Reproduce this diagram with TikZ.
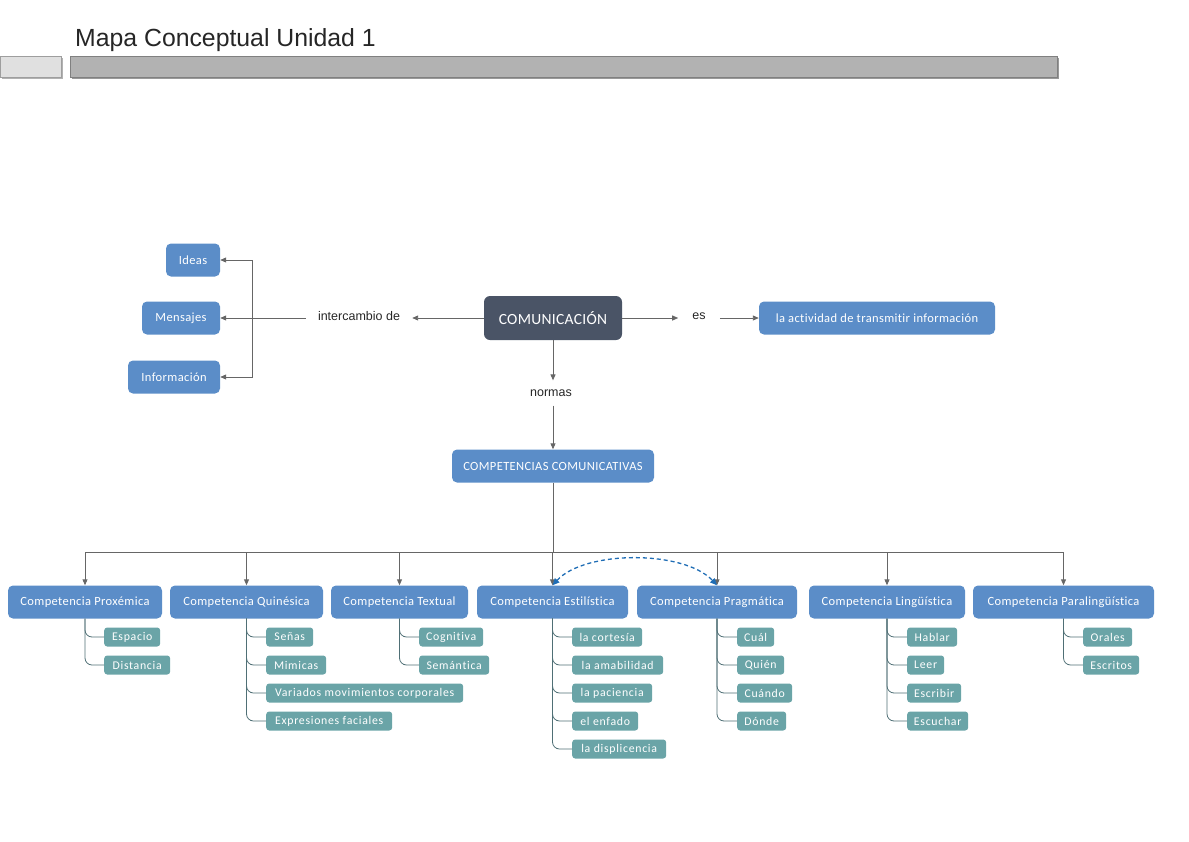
\documentclass[tikz,border=0pt]{standalone}
\usepackage{fontspec}
\setmainfont{Liberation Sans}
\newfontfamily\boxfont[LetterSpace=3,Ligatures=NoCommon]{Carlito}
\newfontfamily\kidfont[LetterSpace=6,Ligatures=NoCommon]{Carlito}
\newfontfamily\bigfont[LetterSpace=2,Ligatures=NoCommon]{Carlito}
\usetikzlibrary{arrows.meta}
\definecolor{cblue}{HTML}{5B8DC8}
\definecolor{cdark}{HTML}{4A5466}
\definecolor{cteal}{HTML}{6AA4A7}
\definecolor{cline}{HTML}{666666}
\definecolor{ckid}{HTML}{4F6F75}
\definecolor{cdash}{HTML}{1F6DB5}
\begin{document}
\begin{tikzpicture}[x=1pt,y=-1pt,
  comp/.style={fill=cblue, rounded corners=5pt, text=white, font=\boxfont\fontsize{12.5}{14}\selectfont, minimum height=33, inner sep=0},
  item/.style={fill=cteal, rounded corners=3pt, text=white, font=\kidfont\fontsize{11.8}{13}\selectfont, minimum height=19, inner sep=0, anchor=west},
  lbl/.style={font=\fontsize{12.5}{14}\selectfont, text=black!85, inner sep=0},
  arr/.style={draw=cline, line width=0.9pt, -{Triangle[length=6pt,width=5pt]}},
  ln/.style={draw=cline, line width=0.9pt},
  kid/.style={draw=ckid, line width=0.8pt, rounded corners=7pt},
  dsh/.style={draw=cdash, line width=1.3pt, dashed, dash pattern=on 4pt off 3pt, {Triangle[length=7pt,width=6pt]}-{Triangle[length=7pt,width=6pt]}}
]
\useasboundingbox (0,0) rectangle (1189,841);
% header
\node[anchor=base west, font=\fontsize{24.8}{28}\selectfont, text=black!85, inner sep=0] (title) at (75,46) {Mapa Conceptual Unidad 1};
\fill[black!30] (2,58) rectangle (63,79);
\draw[fill=black!12, draw=black!38] (0,56) rectangle (61,77);
\fill[black!40] (72,58) rectangle (1059,79);
\draw[fill=black!30, draw=black!50] (70,56) rectangle (1057,77);
% top part
\node[fill=cdark, rounded corners=6pt, text=white, font=\bigfont\fontsize{15.5}{17}\selectfont, minimum width=138, minimum height=44, inner sep=0] (com) at (553,318) {COMUNICACIÓN};
\node[comp, minimum width=54] (ideas) at (193,260) {Ideas};
\node[comp, minimum width=78] (mens) at (181,318) {Mensajes};
\node[comp, minimum width=92] (info) at (174,377) {Información};
\node[lbl, inner xsep=12] (inter) at (359,316) {intercambio de};
\node[lbl, inner xsep=14] (es) at (699,316) {es};
\node[comp, minimum width=236] (act) at (877,318) {la actividad de transmitir información};
\node[lbl, inner ysep=9] (normas) at (551,393) {normas};
\node[comp, minimum width=202] (cc) at (553,466) {COMPETENCIAS COMUNICATIVAS};
\coordinate (jl) at (252,318);
\draw[arr] (com.west) -- (com.west -| inter.east);
\draw[ln] (jl -| inter.west) -- (jl);
\draw[arr] (jl) |- (ideas.east);
\draw[arr] (jl) -- (mens.east);
\draw[arr] (jl) |- (info.east);
\draw[arr] (com.east) -- (com.east -| es.west);
\draw[arr] (com.east -| es.east) -- (act.west);
\draw[arr] (com.south) -- (com.south |- normas.north);
\draw[arr] (com.south |- normas.south) -- (cc.north);
% competencias
\node[comp, minimum width=154] (p1) at (85,602) {Competencia Proxémica};
\node[comp, minimum width=153] (p2) at (246.5,602) {Competencia Quinésica};
\node[comp, minimum width=137] (p3) at (399.5,602) {Competencia Textual};
\node[comp, minimum width=151] (p4) at (552.5,602) {Competencia Estilística};
\node[comp, minimum width=160] (p5) at (717,602) {Competencia Pragmática};
\node[comp, minimum width=156] (p6) at (887,602) {Competencia Lingüística};
\node[comp, minimum width=181] (p7) at (1063.5,602) {Competencia Paralingüística};
\coordinate (bus) at (553,552);
\draw[ln] (cc.south) -- (bus);
\foreach \p in {p1,p2,p3,p4,p5,p6,p7}{\draw[arr] (bus) -| (\p.north);}
\draw[dsh] (p4.north) .. controls (585,550) and (684,550) .. (p5.north);
% children
\newcommand\kidbox[5]{\node[item, minimum width=#4] (#1) at (#2,#3) {#5};}
\kidbox{a1}{104}{637}{56}{Espacio}
\kidbox{a2}{104}{665}{66}{Distancia}
\kidbox{b1}{266}{637}{47}{Señas}
\kidbox{b2}{266}{665}{60}{Mimicas}
\kidbox{b3}{266}{693}{197}{Variados movimientos corporales}
\kidbox{b4}{266}{721}{126}{Expresiones faciales}
\kidbox{c1}{419}{637}{64}{Cognitiva}
\kidbox{c2}{419}{665}{70}{Semántica}
\kidbox{d1}{572}{637}{70}{la cortesía}
\kidbox{d2}{572}{665}{91}{la amabilidad}
\kidbox{d3}{572}{693}{80}{la paciencia}
\kidbox{d4}{572}{721}{66}{el enfado}
\kidbox{d5}{572}{749}{94}{la displicencia}
\kidbox{e1}{737}{637}{37}{Cuál}
\kidbox{e2}{737}{665}{47}{Quién}
\kidbox{e3}{737}{693}{55}{Cuándo}
\kidbox{e4}{737}{721}{49}{Dónde}
\kidbox{f1}{907}{637}{50}{Hablar}
\kidbox{f2}{907}{665}{37}{Leer}
\kidbox{f3}{907}{693}{54}{Escribir}
\kidbox{f4}{907}{721}{61}{Escuchar}
\kidbox{g1}{1083}{637}{49}{Orales}
\kidbox{g2}{1083}{665}{56}{Escritos}
\foreach \k in {a1,a2}{\draw[kid] (p1.south) |- (\k.west);}
\foreach \k in {b1,b2,b3,b4}{\draw[kid] (p2.south) |- (\k.west);}
\foreach \k in {c1,c2}{\draw[kid] (p3.south) |- (\k.west);}
\foreach \k in {d1,d2,d3,d4,d5}{\draw[kid] (p4.south) |- (\k.west);}
\foreach \k in {e1,e2,e3,e4}{\draw[kid] (p5.south) |- (\k.west);}
\foreach \k in {f1,f2,f3,f4}{\draw[kid] (p6.south) |- (\k.west);}
\foreach \k in {g1,g2}{\draw[kid] (p7.south) |- (\k.west);}
\end{tikzpicture}
\end{document}
